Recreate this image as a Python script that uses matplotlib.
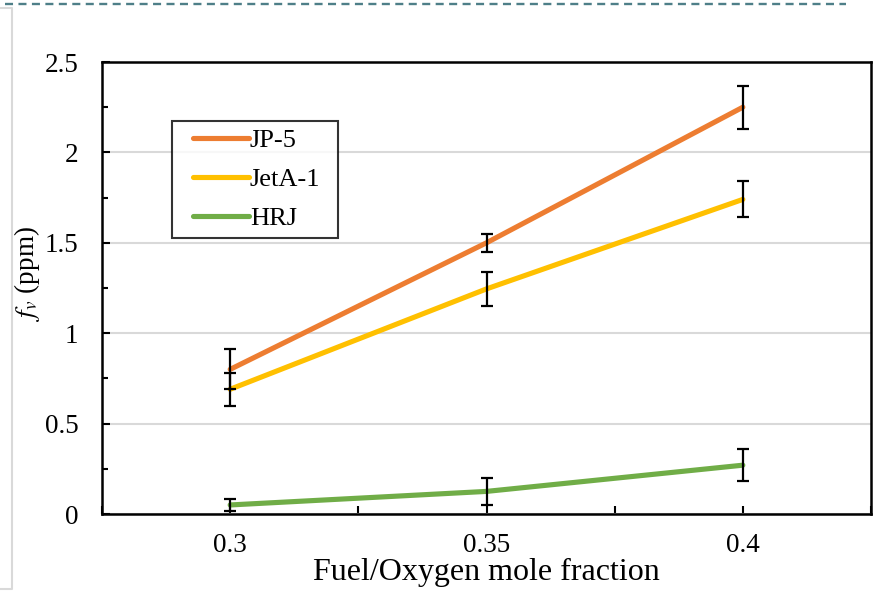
import numpy as np
import matplotlib
matplotlib.use('Agg')
import matplotlib.pyplot as plt
from matplotlib.lines import Line2D
from matplotlib.legend_handler import HandlerLine2D

plt.rcParams['font.family'] = ['Liberation Serif', 'DejaVu Serif']
plt.rcParams['mathtext.fontset'] = 'stix'

# data
ratio = [0.30, 0.35, 0.40]
jp5 = [0.80, 1.50, 2.25]
jp5_err = [0.11, 0.05, 0.12]
jeta1 = [0.69, 1.245, 1.74]
jeta1_err = [0.09, 0.095, 0.10]
hrj = [0.05, 0.125, 0.27]
hrj_err = [0.035, 0.075, 0.09]
names = ['JP-5', 'JetA-1', 'HRJ']
colors = ['#ED7D31', '#FFC000', '#70AD47']

fig = plt.figure(figsize=(8.75, 5.92), dpi=100)

# slide decorations
fig.add_artist(Line2D([5/875, 846/875], [1-4/592, 1-4/592], color='#4E7F88', lw=1.7,
                      linestyle=(0, (3.4, 2.3))))
fig.add_artist(Line2D([0, 12/875, 12/875, 0], [1-8/592, 1-8/592, 1-589/592, 1-589/592],
                      color='#D9D9D9', lw=1.5))

ax = fig.add_axes([102/875, 1-514/592, 769/875, 452/592])

series = [(jp5, jp5_err), (jeta1, jeta1_err), (hrj, hrj_err)]
for (y, e), c, n in zip(series, colors, names):
    ax.plot(ratio, y, color=c, lw=3.7, solid_capstyle='round', label=n, zorder=3)
for (y, e) in series:
    ax.errorbar(ratio, y, yerr=e, fmt='none', ecolor='black', elinewidth=1.6,
                capsize=4.3, capthick=1.6, zorder=4)

ax.set_xlim(0.275, 0.425)
ax.set_ylim(0, 2.5)
ax.set_xticks([0.3, 0.35, 0.4])
ax.set_xticklabels(['0.3', '0.35', '0.4'])
ax.set_xticks([0.275, 0.325, 0.375, 0.425], minor=True)
ax.set_yticks([0, 0.5, 1, 1.5, 2, 2.5])
ax.set_yticklabels(['0', '0.5', '1', '1.5', '2', '2.5'])
ax.set_yticks(np.arange(0.25, 2.5, 0.5), minor=True)
ax.tick_params(axis='both', which='both', direction='in', width=1.5, labelsize=19.5)
ax.tick_params(axis='y', which='major', length=6, pad=17)
ax.tick_params(axis='y', which='minor', length=4.5)
ax.tick_params(axis='x', which='both', length=6, pad=14)
ax.grid(axis='y', color='#D9D9D9', lw=1.5, zorder=0)
for s in ax.spines.values():
    s.set_linewidth(1.8)

ax.set_xlabel('Fuel/Oxygen mole fraction', fontsize=23, labelpad=0)
fig.text(27/875, 1-274/592, '$f_v$ (ppm)', fontsize=19.5, rotation=90,
         ha='center', va='center')

leg = ax.legend(loc='upper left', bbox_to_anchor=(172/875, 1-121/592, 166/875, 0),
                bbox_transform=fig.transFigure, mode='expand', fontsize=19,
                frameon=True, fancybox=False, edgecolor='black',
                handlelength=2.6, handletextpad=0.05, labelspacing=0.58,
                borderpad=0.3, borderaxespad=0,
                handler_map={Line2D: HandlerLine2D(xpad=0.5)})
leg.get_frame().set_linewidth(1.5)

fig.savefig('out.png', dpi=100)
